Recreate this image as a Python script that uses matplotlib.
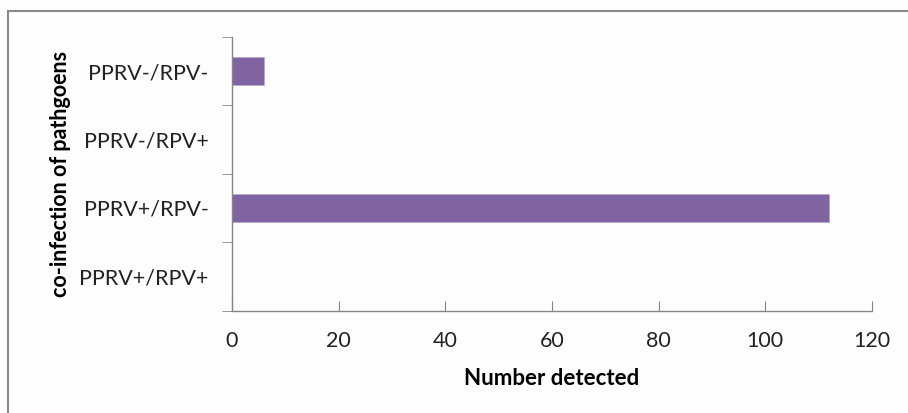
import numpy as np
import matplotlib
matplotlib.use("Agg")
import matplotlib.pyplot as plt
from matplotlib.lines import Line2D

categories = ["PPRV+/RPV+", "PPRV+/RPV-", "PPRV-/RPV+", "PPRV-/RPV-"]
counts = [0, 112, 0, 6]
xticks = [0, 20, 40, 60, 80, 100, 120]

plt.rcParams['font.family'] = ['Lato', 'DejaVu Sans']

fig = plt.figure(figsize=(9.08, 4.13), dpi=100)
fig.patch.set_facecolor('#fdfdfd')
W, H = 908, 413
ax = fig.add_axes([232 / W, 1 - 310.5 / H, 640 / W, 273.5 / H])
ax.set_facecolor('#fdfdfd')

y_pos = np.arange(len(categories))
ax.barh(y_pos, counts, height=0.41, color='#8064a2', edgecolor='#b7a7cc', linewidth=0.6)

ax.set_xlim(0, 120)
ax.set_ylim(-0.5, len(categories) - 0.5)
ax.set_xticks(xticks)
ax.set_xticklabels([str(v) for v in xticks], fontsize=15.5, color='#222222')
ax.set_yticks(y_pos)
ax.set_yticklabels(categories, fontsize=15.5, color='#222222')
ax.set_yticks(np.arange(-0.5, len(categories), 1.0), minor=True)
ax.tick_params(axis='y', which='major', length=0, pad=17)
ax.tick_params(axis='y', which='minor', length=7, color='#868686', direction='out')
ax.tick_params(axis='x', length=7, color='#868686', direction='in', pad=15)
for s in ['top', 'right']:
    ax.spines[s].set_visible(False)
for s in ['left', 'bottom']:
    ax.spines[s].set_color('#868686')
    ax.spines[s].set_linewidth(1.0)

ax.set_xlabel('Number detected', fontsize=16, fontweight='bold', labelpad=12)
ax.set_ylabel('co-infection of pathgoens', fontsize=15.5, fontweight='bold', labelpad=6)

# outer frame
fig.add_artist(Line2D([8 / W, 1], [1 - 11 / H, 1 - 11 / H], color='#8a8a8a', lw=1.5, transform=fig.transFigure))
fig.add_artist(Line2D([8 / W, 8 / W], [1 - 11 / H, 0], color='#8a8a8a', lw=1.5, transform=fig.transFigure))

fig.savefig('out.png', dpi=100, facecolor=fig.get_facecolor())
